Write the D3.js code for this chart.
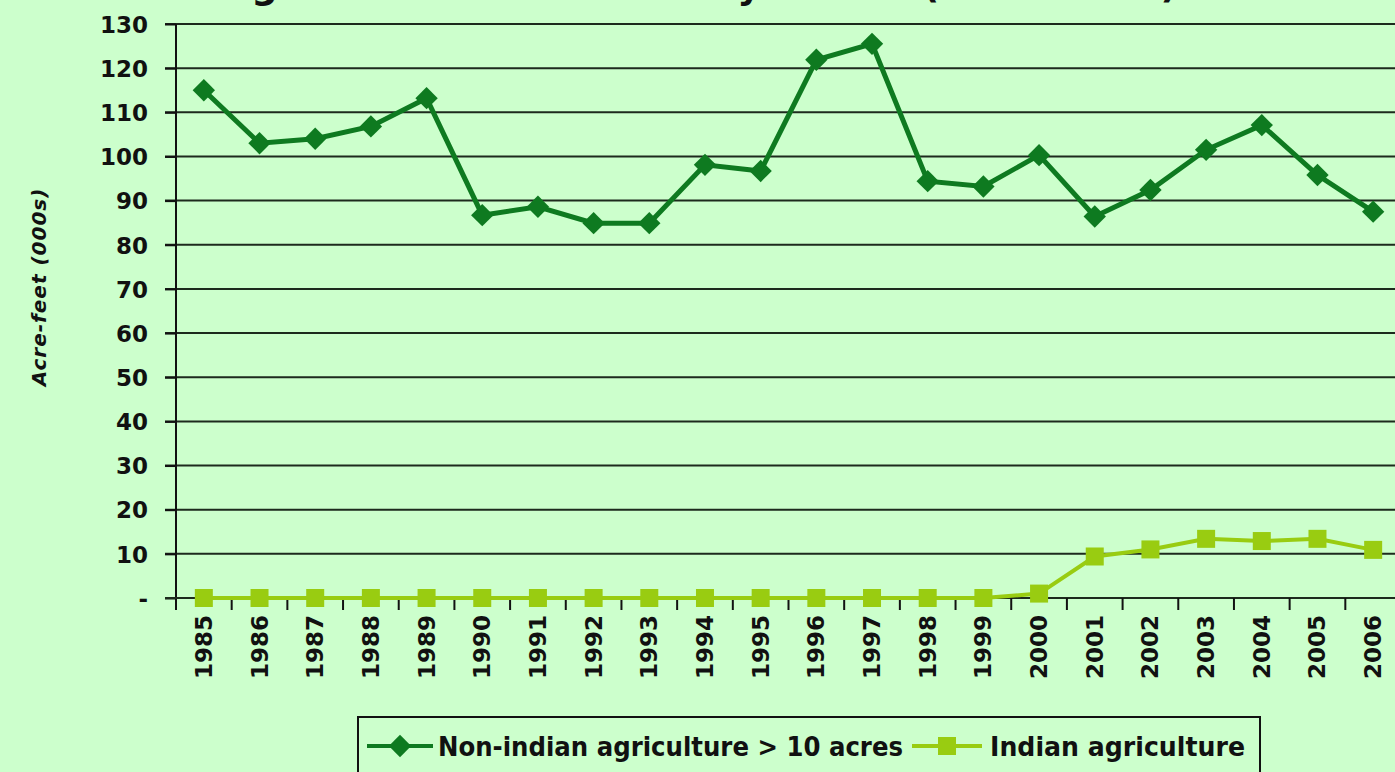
<!DOCTYPE html>
<html>
<head>
<meta charset="utf-8">
<script src="https://cdn.jsdelivr.net/npm/d3@7"></script>
<style>
  html, body { margin: 0; padding: 0; background: #ccffcc; overflow: hidden; }
  svg { display: block; }
  text { font-family: "DejaVu Sans", sans-serif; font-weight: bold; fill: #111; }
</style>
</head>
<body>
<svg id="chart" width="1395" height="772"></svg>
<script>
// data
var years = ["1985","1986","1987","1988","1989","1990","1991","1992","1993","1994","1995",
             "1996","1997","1998","1999","2000","2001","2002","2003","2004","2005","2006"];
var nonIndian = [115,103,104,106.8,113.2,86.7,88.6,84.9,84.9,98.1,96.7,
                 121.9,125.5,94.4,93.2,100.3,86.4,92.4,101.5,107.1,95.8,87.5];
var indian = [0,0,0,0,0,0,0,0,0,0,0,0,0,0,0,1,9.4,11,13.4,12.9,13.4,10.9];
var yTicks = [0,10,20,30,40,50,60,70,80,90,100,110,120,130];
var seriesNames = ["Non-indian agriculture > 10 acres", "Indian agriculture"];

var dark = "#0e7a20", light = "#99cc11";

var svg = d3.select("#chart");

var x = d3.scaleBand().domain(years).range([176, 1401]);
var y = d3.scaleLinear().domain([0,130]).range([598, 24]);

// title: in the picture only its descenders show at the top edge
svg.append("text").attr("x",700).attr("y",-2)
  .attr("text-anchor","middle").attr("font-size",37)
  .text("Agricultural Water Use by Sector (1985-2006)");

// gridlines
svg.append("g").selectAll("line").data(yTicks.filter(d=>d>0)).enter()
  .append("line")
  .attr("x1",165).attr("x2",1395)
  .attr("y1",d=>y(d)).attr("y2",d=>y(d))
  .attr("stroke","#1d2a1d").attr("stroke-width",2);

// y axis
var yAxis = d3.axisLeft(y).tickValues(yTicks).tickSize(11)
  .tickFormat(d=>d===0 ? "-" : d);
var gy = svg.append("g").attr("transform","translate(176,0)").call(yAxis);
gy.select(".domain").attr("stroke","#111").attr("stroke-width",2)
  .attr("d","M0,24V610");
gy.selectAll(".tick line").attr("stroke","#111").attr("stroke-width",2);
gy.selectAll(".tick text").attr("x",-28).attr("dy","0.36em")
  .attr("font-size",23).attr("font-family","DejaVu Sans").attr("font-weight","bold")
  .attr("fill","#111");

// x axis: ticks on band edges, labels rotated
var gx = svg.append("g").attr("transform","translate(0,598)");
gx.append("line").attr("x1",165).attr("x2",1395).attr("y1",0).attr("y2",0)
  .attr("stroke","#1d2a1d").attr("stroke-width",2);
gx.selectAll("line.tk").data(years.slice(1)).enter()
  .append("line").attr("class","tk")
  .attr("x1",d=>x(d)).attr("x2",d=>x(d)).attr("y1",0).attr("y2",12)
  .attr("stroke","#111").attr("stroke-width",2);
gx.selectAll("text").data(years).enter()
  .append("text")
  .attr("transform",d=>"translate("+(x(d)+x.bandwidth()/2+8)+",17) rotate(-90)")
  .attr("text-anchor","end")
  .attr("font-size",23)
  .text(d=>d);

// y axis title
svg.append("text")
  .attr("transform","translate(46,287) rotate(-90)")
  .attr("text-anchor","middle").attr("font-size",20).attr("font-style","italic")
  .attr("letter-spacing",1)
  .text("Acre-feet (000s)");

var cx = d=>x(d)+x.bandwidth()/2;
var line = d3.line().x((d,i)=>cx(years[i])).y(d=>y(d));

// Indian agriculture
svg.append("path").datum(indian).attr("d",line)
  .attr("fill","none").attr("stroke",light).attr("stroke-width",4);
svg.append("g").selectAll("rect").data(indian).enter()
  .append("rect")
  .attr("x",(d,i)=>cx(years[i])-9).attr("y",d=>y(d)-9)
  .attr("width",18).attr("height",18).attr("fill",light);

// Non-indian agriculture
svg.append("path").datum(nonIndian).attr("d",line)
  .attr("fill","none").attr("stroke",dark).attr("stroke-width",5);
var diamond = d3.symbol().type(d3.symbolSquare).size(250);
svg.append("g").selectAll("path").data(nonIndian).enter()
  .append("path").attr("d",diamond)
  .attr("transform",(d,i)=>"translate("+cx(years[i])+","+y(d)+") rotate(45)")
  .attr("fill",dark);

// legend
var lg = svg.append("g");
lg.append("rect").attr("x",358).attr("y",717).attr("width",902).attr("height",70)
  .attr("fill","#ccffcc").attr("stroke","#111").attr("stroke-width",2);
lg.append("line").attr("x1",367).attr("x2",433).attr("y1",746).attr("y2",746)
  .attr("stroke",dark).attr("stroke-width",4);
lg.append("path").attr("d",diamond).attr("transform","translate(400,746) rotate(45)").attr("fill",dark);
lg.append("text").attr("x",438).attr("y",756).attr("font-size",27)
  .attr("textLength",465).attr("lengthAdjust","spacingAndGlyphs")
  .text(seriesNames[0]);
lg.append("line").attr("x1",912).attr("x2",982).attr("y1",746).attr("y2",746)
  .attr("stroke",light).attr("stroke-width",4);
lg.append("rect").attr("x",938).attr("y",737).attr("width",18).attr("height",18).attr("fill",light);
lg.append("text").attr("x",990).attr("y",756).attr("font-size",27)
  .attr("textLength",255).attr("lengthAdjust","spacingAndGlyphs")
  .text(seriesNames[1]);
</script>
</body>
</html>
